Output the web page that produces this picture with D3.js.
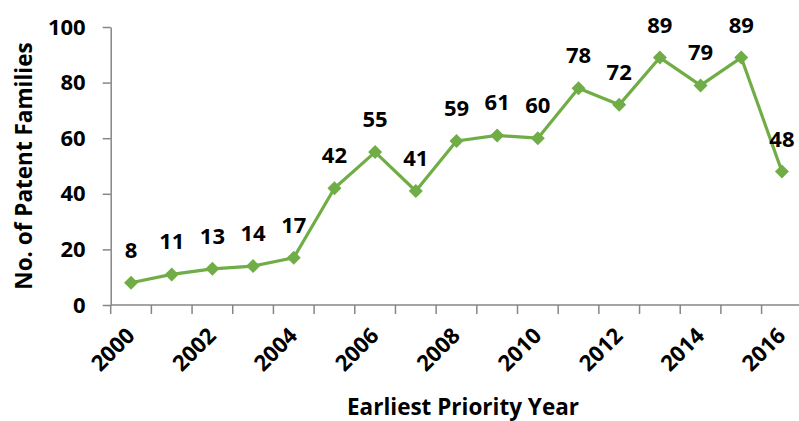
<!DOCTYPE html>
<html>
<head>
<meta charset="utf-8">
<script src="https://cdn.jsdelivr.net/npm/d3@7"></script>
<style>
  body { margin: 0; background: #fff; }
  text { font-family: "Open Sans", "Liberation Sans", sans-serif; font-weight: bold; fill: #000; }
</style>
</head>
<body>
<svg id="chart"></svg>
<script>
var width = 799;
var height = 421;

// data
var years = [2000, 2001, 2002, 2003, 2004, 2005, 2006, 2007, 2008,
             2009, 2010, 2011, 2012, 2013, 2014, 2015, 2016];
var families = [8, 11, 13, 14, 17, 42, 55, 41, 59, 61, 60, 78, 72, 89, 79, 89, 48];
var yTicks = [0, 20, 40, 60, 80, 100];
var xLabelYears = [2000, 2002, 2004, 2006, 2008, 2010, 2012, 2014, 2016];

var axisColor = "#868686";
var lineColor = "#70AD47";

var svg = d3.select("#chart")
    .attr("width", width)
    .attr("height", height);

var plotLeft = 110.7;
var plotBottom = 305;
var plotTop = 27;
var step = 40.68;

var x = d3.scaleBand()
    .domain(years)
    .range([plotLeft, plotLeft + step * years.length])
    .padding(0);

var y = d3.scaleLinear()
    .domain([0, 100])
    .range([plotBottom, plotTop]);

// y axis
var yAxis = svg.append("g")
    .attr("transform", "translate(" + plotLeft + ",0)")
    .call(d3.axisLeft(y).tickValues(yTicks).tickSize(8).tickSizeOuter(0).tickPadding(17));
yAxis.select(".domain").attr("stroke", axisColor).attr("stroke-width", 1.5);
yAxis.selectAll(".tick line").attr("stroke", axisColor).attr("stroke-width", 1.5);
yAxis.selectAll(".tick text")
    .style("font-size", "22px")
    .style("font-family", "'Open Sans', sans-serif")
    .style("font-weight", "bold")
    .attr("fill", "#000");

// x axis line and boundary ticks
svg.append("line")
    .attr("x1", plotLeft).attr("x2", width)
    .attr("y1", plotBottom).attr("y2", plotBottom)
    .attr("stroke", axisColor)
    .attr("stroke-width", 1.5);

var bounds = years.map(function(d) { return x(d); });
bounds.push(x(years[years.length - 1]) + x.bandwidth());
svg.selectAll(".xtick")
    .data(bounds)
    .enter().append("line")
    .attr("class", "xtick")
    .attr("x1", function(d) { return d; })
    .attr("x2", function(d) { return d; })
    .attr("y1", plotBottom)
    .attr("y2", plotBottom + 9)
    .attr("stroke", axisColor)
    .attr("stroke-width", 1.5);

svg.selectAll(".xlabel")
    .data(xLabelYears)
    .enter().append("text")
    .attr("class", "xlabel")
    .attr("transform", function(d) {
        return "translate(" + (x(d) + x.bandwidth() / 2 + 5) + "," + 337 + ") rotate(-45)";
    })
    .attr("text-anchor", "end")
    .style("font-size", "22px")
    .text(function(d) { return d; });

// axis titles
svg.append("text")
    .attr("transform", "translate(32,166) rotate(-90)")
    .attr("text-anchor", "middle")
    .style("font-size", "22.5px")
    .text("No. of Patent Families");

svg.append("text")
    .attr("x", 463)
    .attr("y", 415)
    .attr("text-anchor", "middle")
    .style("font-size", "22.5px")
    .text("Earliest Priority Year");

// line
var line = d3.line()
    .x(function(d, i) { return x(years[i]) + x.bandwidth() / 2; })
    .y(function(d) { return y(d); });

svg.append("path")
    .datum(families)
    .attr("d", line)
    .attr("fill", "none")
    .attr("stroke", lineColor)
    .attr("stroke-width", 3.2)
    .attr("stroke-linejoin", "round");

// markers
svg.selectAll(".marker")
    .data(families)
    .enter().append("path")
    .attr("class", "marker")
    .attr("transform", function(d, i) {
        return "translate(" + (x(years[i]) + x.bandwidth() / 2) + "," + y(d) + ")";
    })
    .attr("d", "M0,-7L7,0L0,7L-7,0Z")
    .attr("fill", lineColor);

// data labels
svg.selectAll(".dlabel")
    .data(families)
    .enter().append("text")
    .attr("class", "dlabel")
    .attr("x", function(d, i) { return x(years[i]) + x.bandwidth() / 2; })
    .attr("y", function(d) { return y(d) - 25; })
    .attr("text-anchor", "middle")
    .style("font-size", "22px")
    .text(function(d) { return d; });
</script>
</body>
</html>
